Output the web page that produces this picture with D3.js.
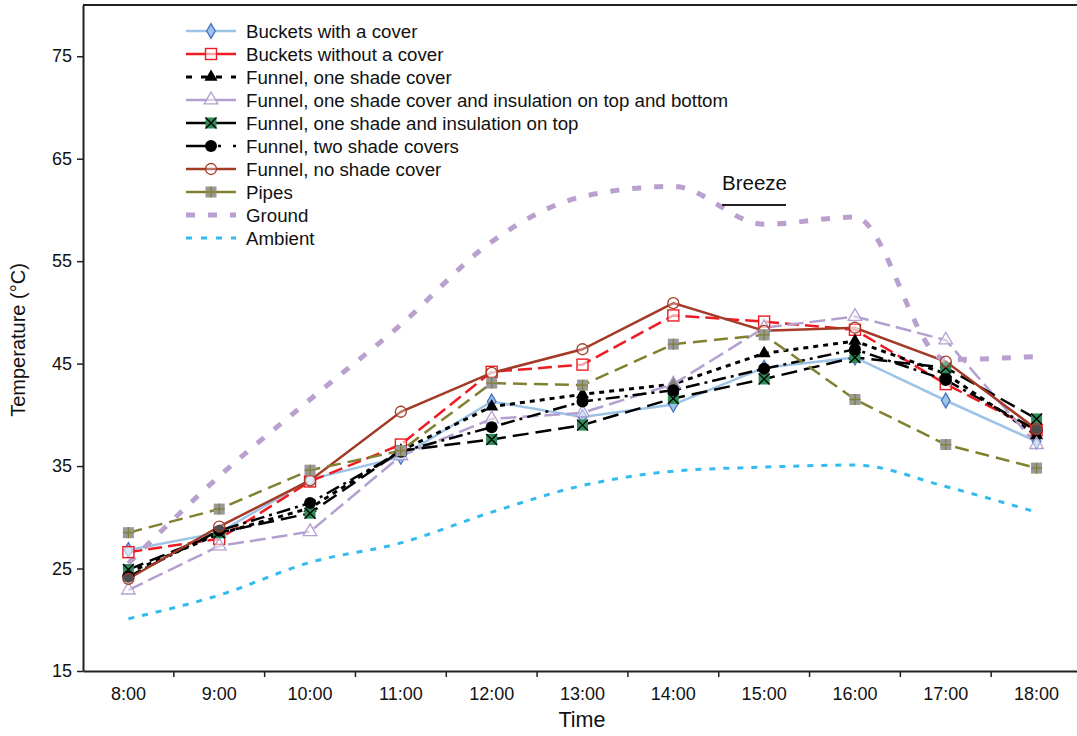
<!DOCTYPE html>
<html>
<head>
<meta charset="utf-8">
<script src="https://cdn.jsdelivr.net/npm/d3@7"></script>
<style>
  html, body { margin: 0; padding: 0; background: #fff; }
  svg { display: block; font-family: "Liberation Sans", Arial, Helvetica, sans-serif; }
</style>
</head>
<body>
<svg id="chart" width="1077" height="736"></svg>
<script>
// ---- data ----
const times = ["8:00","9:00","10:00","11:00","12:00","13:00","14:00","15:00","16:00","17:00","18:00"];
const yTicks = [15, 25, 35, 45, 55, 65, 75];

const bucketsCover      = [26.8, 28.5, 33.7, 35.9, 41.3, 39.8, 41.0, 44.6, 45.6, 41.4, 37.4];
const bucketsNoCover    = [26.6, 27.9, 33.5, 37.1, 44.2, 44.9, 49.7, 49.1, 48.3, 43.0, 38.5];
const funnelOneShade    = [24.6, 28.4, 30.9, 36.5, 40.8, 42.0, 43.0, 46.0, 47.2, 44.0, 38.0];
const funnelInsTopBot   = [22.9, 27.2, 28.6, 36.0, 39.6, 40.2, 43.0, 48.5, 49.6, 47.3, 37.1];
const funnelInsTop      = [24.9, 28.5, 30.4, 36.5, 37.6, 39.0, 41.6, 43.5, 45.6, 44.6, 39.6];
const funnelTwoShade    = [24.2, 28.7, 31.4, 36.4, 38.8, 41.3, 42.4, 44.5, 46.4, 43.4, 38.5];
const funnelNoShade     = [24.0, 29.1, 33.6, 40.3, 44.1, 46.4, 50.9, 48.2, 48.5, 45.2, 38.6];
const pipes             = [28.5, 30.8, 34.6, 36.5, 43.1, 42.9, 46.9, 47.8, 41.5, 37.1, 34.8];
const ground            = [25.5, 34.0, 41.5, 48.8, 56.9, 61.3, 62.3, 58.6, 59.3, 45.4, 45.7];
const ambient           = [20.1, 22.4, 25.6, 27.5, 30.5, 33.1, 34.5, 34.9, 35.1, 33.0, 30.5];

const seriesNames = [
  "Buckets with a cover",
  "Buckets without a cover",
  "Funnel, one shade cover",
  "Funnel, one shade cover and insulation on top and bottom",
  "Funnel, one shade and insulation on top",
  "Funnel, two shade covers",
  "Funnel, no shade cover",
  "Pipes",
  "Ground",
  "Ambient"
];
const seriesValues = [bucketsCover, bucketsNoCover, funnelOneShade, funnelInsTopBot,
  funnelInsTop, funnelTwoShade, funnelNoShade, pipes, ground, ambient];

// ---- styles (not data) ----
const styles = [
  {color:"#9dc3e6", width:2.5, dash:null, marker:"diamond", smooth:false},
  {color:"#ed1c24", width:2.5, dash:"14,6", marker:"squareOpen", smooth:false},
  {color:"#000000", width:3, dash:"5,5", marker:"triangleFill", smooth:false},
  {color:"#b4a0d0", width:2.5, dash:"16,6", marker:"triangleOpen", smooth:false},
  {color:"#000000", width:2.5, dash:"16,7", marker:"xsquare", smooth:false},
  {color:"#000000", width:2.5, dash:"14,5,3,5", marker:"circleFill", smooth:false},
  {color:"#a33a26", width:2.5, dash:null, marker:"circleOpen", smooth:false},
  {color:"#808030", width:2.5, dash:"14,7", marker:"plusSquare", smooth:false},
  {color:"#b9a0cf", width:5, dash:"9,13", marker:null, smooth:true},
  {color:"#33bbee", width:3, dash:"6,8", marker:null, smooth:true}
];

const svg = d3.select("#chart");
const pLeft = 83, pRight = 1082, pTop = 5, pBottom = 671;

const x = d3.scaleBand().domain(times).range([pLeft, pRight]).paddingInner(0).paddingOuter(0);
const cx = t => x(t) + x.bandwidth() / 2;
const y = d3.scaleLinear().domain([15, 80]).range([pBottom, pTop]);

// frame top line
svg.append("line").attr("x1", pLeft).attr("x2", pRight).attr("y1", pTop).attr("y2", pTop)
  .attr("stroke", "#231f20").attr("stroke-width", 2);

// y axis
const yAxis = svg.append("g").attr("transform", `translate(${pLeft},0)`)
  .call(d3.axisLeft(y).tickValues(yTicks).tickSize(6).tickSizeOuter(0).tickPadding(5));
yAxis.select(".domain").attr("stroke", "#231f20").attr("stroke-width", 2);
yAxis.selectAll(".tick line").attr("stroke", "#231f20").attr("stroke-width", 1.5);
yAxis.selectAll("text").attr("font-size", 18).attr("fill", "#111")
  .attr("font-family", "Liberation Sans, Arial, sans-serif");

// x axis
const xAxis = svg.append("g").attr("transform", `translate(0,${pBottom})`)
  .call(d3.axisBottom(x).tickSize(0).tickSizeOuter(0).tickPadding(16));
xAxis.select(".domain").attr("stroke", "#231f20").attr("stroke-width", 2);
xAxis.selectAll("text").attr("font-size", 18).attr("fill", "#111")
  .attr("font-family", "Liberation Sans, Arial, sans-serif");
xAxis.selectAll(".bnd").data(times.slice(1)).enter().append("line")
  .attr("x1", d => x(d)).attr("x2", d => x(d)).attr("y1", 0).attr("y2", 6)
  .attr("stroke", "#231f20").attr("stroke-width", 1.5);

// axis titles
svg.append("text").attr("x", (pLeft + 1077) / 2 + 2).attr("y", 727).attr("text-anchor", "middle")
  .attr("font-size", 21.5).attr("fill", "#111").text("Time");
svg.append("text").attr("transform", `translate(25,${(pTop + pBottom) / 2 + 2}) rotate(-90)`)
  .attr("text-anchor", "middle").attr("font-size", 20).attr("fill", "#111").text("Temperature (\u00B0C)");

// markers
function drawMarker(g, type, color, px, py) {
  const s = 5.5;
  if (type === "diamond") {
    g.append("path").attr("d", d3.symbol(d3.symbolDiamond, 64)()).attr("transform", `translate(${px},${py})`)
      .attr("fill", "#9dc3e6").attr("stroke", "#4472c4").attr("stroke-width", 1.3);
  } else if (type === "squareOpen") {
    g.append("rect").attr("x", px - s).attr("y", py - s).attr("width", 2 * s).attr("height", 2 * s)
      .attr("fill", "#fff").attr("fill-opacity", 0.6).attr("stroke", color).attr("stroke-width", 1.4);
  } else if (type === "triangleFill") {
    g.append("path").attr("d", d3.symbol(d3.symbolTriangle, 75)()).attr("transform", `translate(${px},${py})`)
      .attr("fill", "#000");
  } else if (type === "triangleOpen") {
    g.append("path").attr("d", d3.symbol(d3.symbolTriangle, 80)()).attr("transform", `translate(${px},${py})`)
      .attr("fill", "#fff").attr("fill-opacity", 0.5).attr("stroke", color).attr("stroke-width", 1.3);
  } else if (type === "xsquare") {
    g.append("rect").attr("x", px - s).attr("y", py - s).attr("width", 2 * s).attr("height", 2 * s)
      .attr("fill", "#2e8b57");
    g.append("path").attr("d", `M${px - s},${py - s}L${px + s},${py + s}M${px + s},${py - s}L${px - s},${py + s}`)
      .attr("stroke", "#000").attr("stroke-width", 1.3);
  } else if (type === "circleFill") {
    g.append("circle").attr("cx", px).attr("cy", py).attr("r", 6).attr("fill", "#000");
  } else if (type === "circleOpen") {
    g.append("circle").attr("cx", px).attr("cy", py).attr("r", 5.5)
      .attr("fill", "#fff").attr("fill-opacity", 0.3).attr("stroke", color).attr("stroke-width", 1.3);
  } else if (type === "plusSquare") {
    g.append("rect").attr("x", px - s).attr("y", py - s).attr("width", 2 * s).attr("height", 2 * s)
      .attr("fill", "#999999");
    g.append("path").attr("d", `M${px - s},${py}L${px + s},${py}M${px},${py - s}L${px},${py + s}`)
      .attr("stroke", color).attr("stroke-width", 1.3);
  }
}

// series
const plot = svg.append("g");
seriesValues.forEach((vals, i) => {
  const st = styles[i];
  const pts = vals.map((v, k) => [cx(times[k]), y(v)]);
  const line = d3.line().curve(st.smooth ? d3.curveMonotoneX : d3.curveLinear);
  const p = plot.append("path").attr("d", line(pts)).attr("fill", "none")
    .attr("stroke", st.color).attr("stroke-width", st.width);
  if (st.dash) p.attr("stroke-dasharray", st.dash);
});
seriesValues.forEach((vals, i) => {
  const st = styles[i];
  if (!st.marker) return;
  const g = plot.append("g");
  vals.forEach((v, k) => drawMarker(g, st.marker, st.color, cx(times[k]), y(v)));
});

// legend
const legendDash = [null, null, "6,9", null, null, "20,12,3,12", null, null, "9,13", "6,9"];
const lg = svg.append("g");
seriesNames.forEach((name, i) => {
  const st = styles[i];
  const ly = 31 + i * 23;
  const ln = lg.append("line").attr("x1", 186).attr("x2", 236).attr("y1", ly).attr("y2", ly)
    .attr("stroke", st.color).attr("stroke-width", st.width);
  if (legendDash[i]) ln.attr("stroke-dasharray", legendDash[i]);
  if (st.marker) drawMarker(lg, st.marker, st.color, 211, ly);
  lg.append("text").attr("x", 246).attr("y", ly + 6.5).attr("font-size", 18.7).attr("fill", "#111").text(name);
});

// Breeze annotation
svg.append("text").attr("x", 722).attr("y", 190).attr("font-size", 20.5).attr("fill", "#111").text("Breeze");
svg.append("line").attr("x1", 722).attr("x2", 786).attr("y1", 205).attr("y2", 205)
  .attr("stroke", "#231f20").attr("stroke-width", 2);
</script>
</body>
</html>
